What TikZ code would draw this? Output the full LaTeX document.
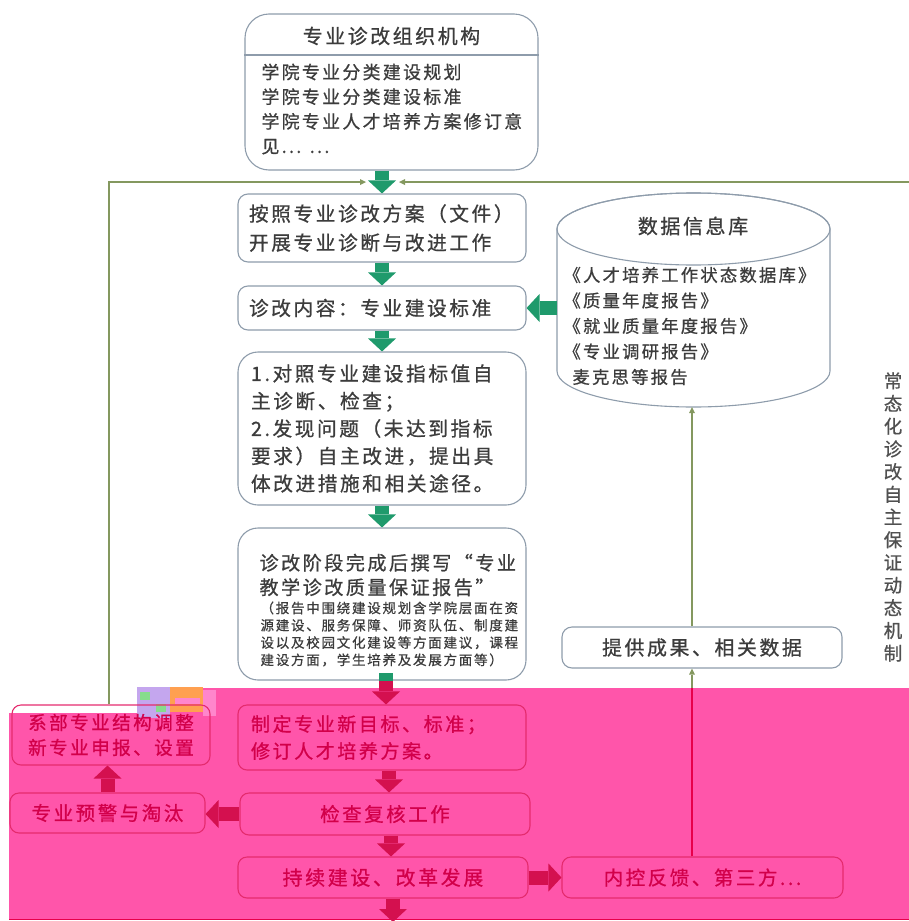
\documentclass[tikz,border=0pt]{standalone}
\usepackage{fontspec}
\newfontfamily\cjk[LetterSpace=13, FakeBold=0.8]{Noto Sans CJK SC}
\usetikzlibrary{arrows.meta}
\definecolor{txtgray}{HTML}{3C3C3C}
\definecolor{boxgray}{HTML}{8E9CAB}
\definecolor{agreen}{HTML}{1F9A6C}
\definecolor{olive}{HTML}{84985F}
\definecolor{pinkbg}{HTML}{FF55AA}
\definecolor{pinkline}{HTML}{E52B6E}
\definecolor{crim}{HTML}{D2004A}
\definecolor{ared}{HTML}{D4104F}
\definecolor{redline}{HTML}{E8004A}
\definecolor{glA}{HTML}{C4A6EE}
\definecolor{glB}{HTML}{86DC8C}
\definecolor{glC}{HTML}{FFA050}
\definecolor{glD}{HTML}{FF86CC}
\begin{document}
\begin{tikzpicture}[x=1pt,y=-1pt,
 wbox/.style={draw=boxgray, line width=1.1pt, fill=white, rounded corners=10pt, inner sep=0pt, text=txtgray},
 pbox/.style={draw=pinkline, line width=1.1pt, fill=pinkbg, rounded corners=9pt, inner sep=0pt, text=crim},
 gA/.style={draw=agreen, line width=14pt, -{Triangle[width=28pt,length=13pt,line width=0pt]}},
 rA/.style={draw=ared, line width=14pt, -{Triangle[width=28pt,length=13pt,line width=0pt]}},
 oline/.style={draw=olive, line width=1.6pt},
 otip/.style={-{Triangle[width=6pt,length=6pt,line width=0pt]}},
 fs/.style 2 args={font=\cjk\fontsize{#1}{#2}\selectfont},
]
\useasboundingbox (0,0) rectangle (909,921);
% pink highlight region
\fill[pinkbg] (9,713) -- (137,713) -- (137,688) -- (909,688) -- (909,919) -- (9,919) -- cycle;
\draw[redline, line width=1pt] (9,919) -- (909,919);
% glitch patch
\fill[glA] (137,687) rectangle (170,718);
\fill[glB] (140,692) rectangle (150,700);
\fill[glB] (156,704) rectangle (166,712);
\fill[glC] (170,687) rectangle (203,712);
\fill[glD] (175,698) rectangle (200,704);
\fill[glD] (203,690) rectangle (216,716);

% top organisation box
\node[wbox, rounded corners=24pt, minimum width=293pt, minimum height=156pt] (org) at (391.5,92) {};
\draw[boxgray, line width=1.1pt] (org.west |- 0,55) -- (org.east |- 0,55);
\node[fs={19.9}{24}, text=txtgray] (orgt) at (391.5,36) {专业诊改组织机构};
\node[fs={17.9}{24.7}, text=txtgray, align=left, anchor=west] (orgb) at (258,109)
  {学院专业分类建设规划\\学院专业分类建设标准\\学院专业人才培养方案修订意\\见... ...};

% main column
\node[wbox, minimum width=288pt, minimum height=68pt, fs={19.7}{29}, text width=266pt, align=left] (b1) at (382,228)
  {按照专业诊改方案（文件）\\开展专业诊断与改进工作};
\node[wbox, minimum width=288pt, minimum height=44pt, fs={19.7}{29}, text width=266pt, align=left] (b2) at (382,308)
  {诊改内容：专业建设标准};
\node[wbox, rounded corners=20pt, minimum width=288pt, minimum height=153pt, fs={19.7}{27.5}, text width=262pt, align=left] (b3) at (382,428.5)
  {1.对照专业建设指标值自\\主诊断、检查；\\2.发现问题（未达到指标\\要求）自主改进，提出具\\体改进措施和相关途径。};
\node[wbox, rounded corners=20pt, minimum width=288pt, minimum height=152pt] (b4) at (382,604) {};
\node[fs={19.1}{24.5}, text=txtgray, align=left, anchor=west] (b4t) at (256,575)
  {诊改阶段完成后撰写“专业\\教学诊改质量保证报告”};
\node[fs={13.5}{17.3}, text=txtgray, align=left, anchor=west] (b4s) at (257,634)
  {（报告中围绕建设规划含学院层面在资\\源建设、服务保障、师资队伍、制度建\\设以及校园文化建设等方面建议，课程\\建设方面，学生培养及发展方面等）};

% database cylinder
\path[draw=boxgray, line width=1.1pt, fill=white] (557,229) -- (557,371)
  arc[start angle=180, end angle=360, x radius=136.5pt, y radius=36pt] -- (830,229)
  arc[start angle=0, end angle=180, x radius=136.5pt, y radius=36pt] -- cycle;
\draw[boxgray, line width=1.1pt] (693.5,229) ellipse [x radius=136.5pt, y radius=36pt];
\node[minimum width=273pt, minimum height=214pt, inner sep=0pt] (db) at (693.5,300) {};
\node[fs={20}{24}, text=txtgray] (dbt) at (693,226) {数据信息库};
\node[fs={17.3}{25.5}, text=txtgray, align=left, anchor=west] (dbb) at (560,326)
  {《人才培养工作状态数据库》\\《质量年度报告》\\《就业质量年度报告》\\《专业调研报告》\\\hspace*{9pt}麦克思等报告};

\node[wbox, minimum width=280pt, minimum height=41pt, fs={19.9}{24}] (g) at (702,647.5) {提供成果、相关数据};

% vertical caption
\node[fs={18.5}{22.7}, text=txtgray!90, align=center] (vt) at (893,517)
  {常\\态\\化\\诊\\改\\自\\主\\保\\证\\动\\态\\机\\制};

% pink boxes
\node[pbox, minimum width=288pt, minimum height=65pt, fs={19.1}{27}, text width=262pt, align=left] (p1) at (382,737.5)
  {制定专业新目标、标准；\\修订人才培养方案。};
\node[pbox, minimum width=290pt, minimum height=42pt, fs={19.5}{24}] (p2) at (385,814) {检查复核工作};
\node[pbox, minimum width=290pt, minimum height=41pt, fs={20}{24}] (p3) at (383,877.5) {持续建设、改革发展};
\node[pbox, minimum width=281pt, minimum height=41pt, fs={19.5}{24}] (p4) at (702.5,877.5) {内控反馈、第三方...};
\node[pbox, fill=none, minimum width=198pt, minimum height=60pt, fs={18.6}{25}, align=center] (L1) at (111,735)
  {系部专业结构调整\\新专业申报、设置};
\node[pbox, minimum width=195pt, minimum height=40pt, fs={19.5}{24}] (L2) at (107.5,813) {专业预警与淘汰};

% block arrows
\draw[gA] (org.south -| b1.north) -- (b1.north);
\draw[gA] (b1.south) -- (b2.north);
\draw[gA] (b2.south) -- (b3.north);
\draw[gA] (b3.south) -- (b4.north);
\draw[gA] (b2.east -| db.west) -- (b2.east);
\draw[rA] ([xshift=4pt]b4.south) -- ([xshift=4pt]b4.south |- p1.north);
\draw[agreen, line width=14pt] ([xshift=4pt]b4.south) -- ([xshift=4pt,yshift=8pt]b4.south);
\draw[rA] ([xshift=7pt]p1.south) -- ([xshift=7pt]p1.south |- p2.north);
\draw[rA] ([xshift=6pt]p2.south) -- ([xshift=6pt]p2.south |- p3.north);
\coordinate (bot) at (393,922);
\draw[rA] (p3.south -| bot) -- (bot);
\draw[rA] (p2.west) -- (p2.west -| L2.east);
\draw[rA] (L2.north) -- (L2.north |- L1.south);
\draw[rA] (p3.east) -- (p3.east -| p4.west);

% thin connectors
\coordinate (lt) at (366,182);
\coordinate (rt) at (399,182);
\coordinate (re) at (909,182);
\draw[oline, otip] ([xshift=-2pt]L1.north) |- (lt);
\draw[oline, otip] (re) -- (rt);
\coordinate (pk) at (692,688);
\draw[redline, line width=1.8pt] ([xshift=-10.5pt]p4.north) -- (pk);
\draw[oline, otip] (pk) -- (pk |- g.south);
\draw[oline, otip] ([xshift=-10pt]g.north) -- ([xshift=-10pt]g.north |- db.south);
\end{tikzpicture}
\end{document}
